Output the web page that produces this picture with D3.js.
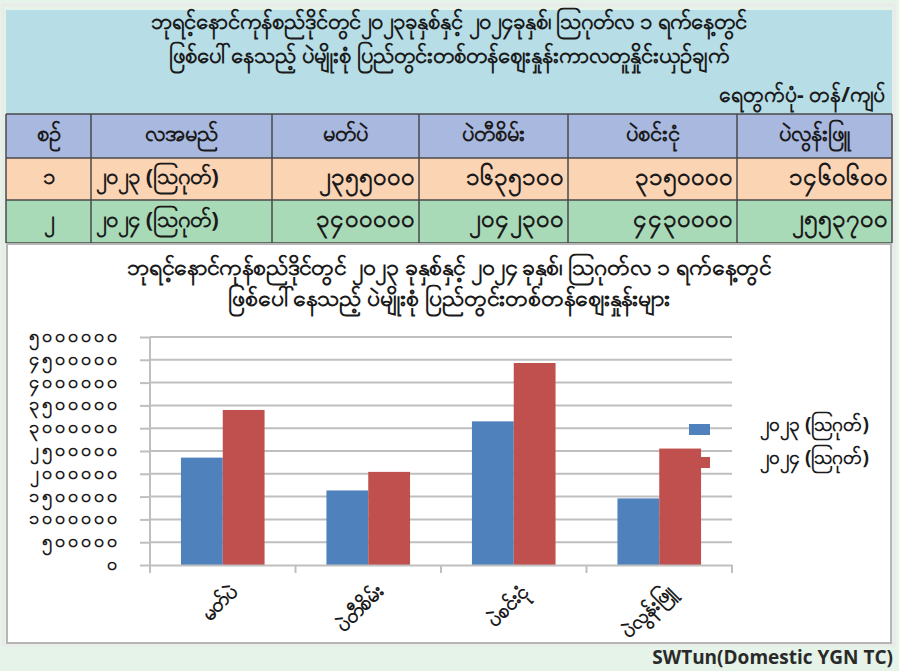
<!DOCTYPE html>
<html>
<head>
<meta charset="utf-8">
<script src="https://cdn.jsdelivr.net/npm/d3@7"></script>
<style>
  html, body { margin: 0; padding: 0; background: #e5f3e8; }
  svg { display: block; font-family: "Noto Sans", "DejaVu Sans", sans-serif; }
</style>
</head>
<body>
<div id="chart"></div>
<script>
const titleLines = [
  "ဘုရင့်နောင်ကုန်စည်ဒိုင်တွင်၂၀၂၃ခုနှစ်နှင့် ၂၀၂၄ခုနှစ်၊ ဩဂုတ်လ ၁ ရက်နေ့တွင်",
  "ဖြစ်ပေါ်နေသည့် ပဲမျိုးစုံ ပြည်တွင်းတစ်တန်ဈေးနှုန်းကာလတူနှိုင်းယှဉ်ချက်"
];
const unitLabel = "ရေတွက်ပုံ- တန်/ကျပ်";
const tableHeaders = ["စဉ်", "လအမည်", "မတ်ပဲ", "ပဲတီစိမ်း", "ပဲစင်းငုံ", "ပဲလွန်းဖြူ"];
const rowNumbers = ["၁", "၂"];
const categories = ["မတ်ပဲ", "ပဲတီစိမ်း", "ပဲစင်းငုံ", "ပဲလွန်းဖြူ"];
const seriesNames = ["၂၀၂၃ (ဩဂုတ်)", "၂၀၂၄ (ဩဂုတ်)"];
const values2023 = [2355000, 1635100, 3150000, 1460600];
const values2024 = [3400000, 2042300, 4430000, 2553700];
const yTicks = [0, 500000, 1000000, 1500000, 2000000, 2500000, 3000000, 3500000, 4000000, 4500000, 5000000];
const chartTitle = [
  "ဘုရင့်နောင်ကုန်စည်ဒိုင်တွင်  ၂၀၂၃ ခုနှစ်နှင့်  ၂၀၂၄ ခုနှစ်၊ ဩဂုတ်လ ၁ ရက်နေ့တွင်",
  "ဖြစ်ပေါ်နေသည့်  ပဲမျိုးစုံ  ပြည်တွင်းတစ်တန်ဈေးနှုန်းများ"
];
const credit = "SWTun(Domestic YGN TC)";

const seriesColors = ["#4f81bd", "#c0504d"];
const mmDigits = "၀၁၂၃၄၅၆၇၈၉";
const toMM = (n) => String(n).replace(/[0-9]/g, (c) => mmDigits[+c]);

const W = 899, H = 671;
const svg = d3.select("#chart").append("svg").attr("width", W).attr("height", H);

svg.append("rect").attr("width", W).attr("height", H).attr("fill", "#e5f3e8");
svg.append("rect").attr("x", 3).attr("y", 5).attr("width", 891).attr("height", 640)
  .attr("fill", "none").attr("stroke", "#e9ebea").attr("stroke-width", 3);

// title box
svg.append("rect").attr("x", 6).attr("y", 10).attr("width", 886).attr("height", 104).attr("fill", "#b7dee7");
svg.selectAll("text.title")
  .data(titleLines)
  .enter()
  .append("text")
  .attr("x", 449)
  .attr("y", (_d, i) => 23 + i * 34)
  .attr("text-anchor", "middle")
  .attr("dominant-baseline", "middle")
  .attr("fill", "#1a1a1a")
  .style("font-size", "22px")
  .style("font-weight", "bold")
  .text((d) => d);
svg.append("text").attr("x", 885).attr("y", 96)
  .attr("text-anchor", "end").attr("dominant-baseline", "middle")
  .attr("fill", "#1a1a1a").style("font-size", "21px").style("font-weight", "bold").text(unitLabel);

// table
const colEdges = [6, 91, 272, 419, 568, 737, 892];
const rowEdges = [114, 158, 200, 243];
const rowFills = ["#a8b8df", "#fbd4b4", "#a9dab8"];
const tableRows = [
  tableHeaders,
  [rowNumbers[0], seriesNames[0], ...values2023.map(toMM)],
  [rowNumbers[1], seriesNames[1], ...values2024.map(toMM)]
];
const table = svg.append("g");
tableRows.forEach((row, r) => {
  table.append("rect")
    .attr("x", colEdges[0]).attr("y", rowEdges[r])
    .attr("width", colEdges[6] - colEdges[0]).attr("height", rowEdges[r + 1] - rowEdges[r])
    .attr("fill", rowFills[r]);
  row.forEach((cell, c) => {
    let x, anchor;
    if (r === 0 || c === 0) { x = (colEdges[c] + colEdges[c + 1]) / 2; anchor = "middle"; }
    else if (c === 1) { x = colEdges[c] + 5; anchor = "start"; }
    else { x = colEdges[c + 1] - 4; anchor = "end"; }
    table.append("text")
      .attr("x", x).attr("y", (rowEdges[r] + rowEdges[r + 1]) / 2 - 1)
      .attr("text-anchor", anchor).attr("dominant-baseline", "middle")
      .attr("fill", "#1a1a1a")
      .style("font-size", r > 0 && c > 1 ? "24px" : "22px")
      .style("font-weight", "bold")
      .style("letter-spacing", r > 0 && c > 1 ? "1px" : null)
      .text(cell);
  });
});
rowEdges.forEach((y) => {
  table.append("line").attr("x1", colEdges[0]).attr("x2", colEdges[6]).attr("y1", y).attr("y2", y)
    .attr("stroke", "#4a4a4a").attr("stroke-width", 1.5);
});
colEdges.forEach((x) => {
  table.append("line").attr("x1", x).attr("x2", x).attr("y1", rowEdges[0]).attr("y2", rowEdges[3])
    .attr("stroke", "#4a4a4a").attr("stroke-width", 1.5);
});

// chart box
svg.append("rect").attr("x", 7).attr("y", 244).attr("width", 884).attr("height", 399)
  .attr("fill", "#ffffff").attr("stroke", "#b5b5b5").attr("stroke-width", 2);

svg.selectAll("text.ctitle")
  .data(chartTitle)
  .enter()
  .append("text")
  .attr("x", 449)
  .attr("y", (_d, i) => 269 + i * 31)
  .attr("text-anchor", "middle")
  .attr("dominant-baseline", "middle")
  .attr("fill", "#1a1a1a")
  .style("font-size", "23px")
  .style("font-weight", "bold")
  .text((d) => d);

const plot = { left: 150, right: 732, top: 337, bottom: 565 };
const x0 = d3.scaleBand().domain(categories).range([plot.left, plot.right]).paddingInner(0).paddingOuter(0);
const x1 = d3.scaleBand().domain([0, 1]).range([0, x0.bandwidth()]).paddingOuter(0.74).paddingInner(0);
const y = d3.scaleLinear().domain([0, 5000000]).range([plot.bottom, plot.top]);

const yAxisG = svg.append("g")
  .attr("transform", `translate(${plot.left},0)`)
  .call(d3.axisLeft(y).tickValues(yTicks).tickSize(10).tickFormat(toMM));
yAxisG.select(".domain").remove();
yAxisG.selectAll(".tick line").attr("stroke", "#bfbfbf").attr("stroke-width", 2);
yAxisG.selectAll(".tick text")
  .attr("x", -30)
  .attr("dy", "0.25em")
  .attr("fill", "#1a1a1a")
  .style("font-size", "18px")
  .style("font-weight", "bold")
  .style("letter-spacing", "3px")
  .style("font-family", "'Noto Sans', 'DejaVu Sans', sans-serif");

svg.append("g")
  .selectAll("line")
  .data(yTicks.slice(1))
  .enter()
  .append("line")
  .attr("x1", plot.left).attr("x2", plot.right)
  .attr("y1", (d) => y(d)).attr("y2", (d) => y(d))
  .attr("stroke", "#bfbfbf").attr("stroke-width", 2);

const groups = svg.append("g")
  .selectAll("g")
  .data(categories)
  .enter()
  .append("g")
  .attr("transform", (d) => `translate(${x0(d)},0)`);

groups.selectAll("rect")
  .data((_d, i) => [values2023[i], values2024[i]])
  .enter()
  .append("rect")
  .attr("x", (_d, j) => x1(j))
  .attr("width", x1.bandwidth())
  .attr("y", (d) => y(d))
  .attr("height", (d) => y(0) - y(d))
  .attr("fill", (_d, j) => seriesColors[j]);

const xAxisG = svg.append("g")
  .attr("transform", `translate(0,${plot.bottom})`)
  .call(d3.axisBottom(x0).tickSize(0).tickFormat(""));
xAxisG.select(".domain").attr("stroke", "#bfbfbf").attr("stroke-width", 2);
svg.append("g")
  .selectAll("line")
  .data(d3.range(categories.length + 1))
  .enter()
  .append("line")
  .attr("x1", (i) => plot.left + i * x0.step())
  .attr("x2", (i) => plot.left + i * x0.step())
  .attr("y1", (i) => (i === 0 ? plot.top : plot.bottom))
  .attr("y2", plot.bottom + 8)
  .attr("stroke", "#bfbfbf").attr("stroke-width", 2);

svg.append("g")
  .selectAll("text")
  .data(categories)
  .enter()
  .append("text")
  .attr("transform", (d) => `translate(${x0(d) + x0.bandwidth() / 2 + 12},${plot.bottom + 24}) rotate(-45)`)
  .attr("text-anchor", "end")
  .attr("dominant-baseline", "middle")
  .attr("fill", "#1a1a1a")
  .style("font-size", "20px")
  .style("font-weight", "bold")
  .text((d) => d);

// legend
const legend = svg.append("g");
seriesNames.forEach((name, i) => {
  legend.append("rect")
    .attr("x", 689).attr("y", 424 + i * 33)
    .attr("width", 21).attr("height", 11)
    .attr("fill", seriesColors[i]);
  legend.append("text")
    .attr("x", 760).attr("y", 426 + i * 33)
    .attr("dominant-baseline", "middle")
    .attr("fill", "#1a1a1a")
    .style("font-size", "19px")
    .style("font-weight", "bold")
    .text(name);
});

svg.append("text").attr("x", 893).attr("y", 659)
  .attr("text-anchor", "end").attr("dominant-baseline", "middle")
  .attr("fill", "#2a2a2a")
  .style("font-size", "19px").style("font-weight", "bold")
  .style("font-family", "'Open Sans', 'Noto Sans', sans-serif")
  .text(credit);
</script>
</body>
</html>
